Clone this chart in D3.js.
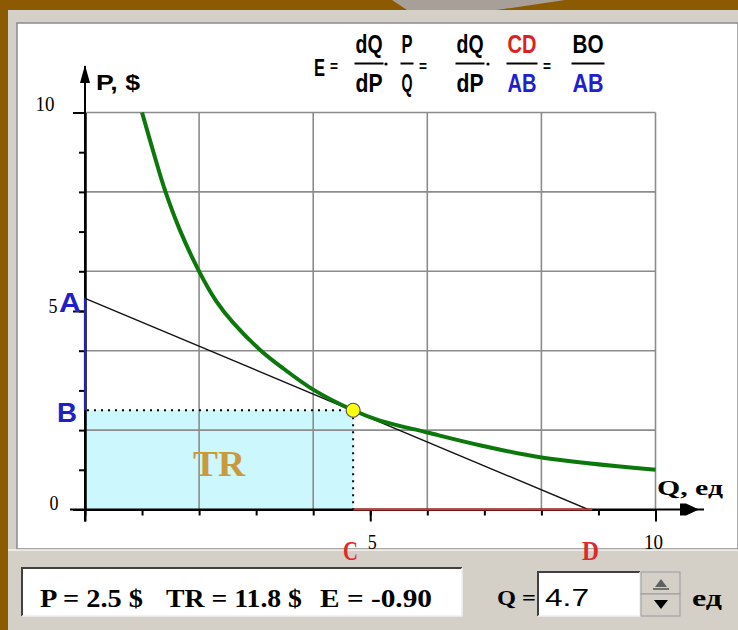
<!DOCTYPE html>
<html>
<head>
<meta charset="utf-8">
<script src="https://cdn.jsdelivr.net/npm/d3@7"></script>
<style>
  body { margin: 0; background: #8c5a00; }
  svg { display: block; }
</style>
</head>
<body>
<div id="chart"></div>
<script>
// demand curve (Q in units, P in $)
var qValues = [1.0, 1.2, 1.4, 1.66, 2.0, 2.3, 2.6, 3.07, 3.45, 4.0, 4.7, 5.17, 6.0, 6.92, 8.0, 10.0];
var pValues = [10, 9.0, 8.05, 7.05, 6.0, 5.25, 4.7, 4.02, 3.58, 3.02, 2.5, 2.24, 1.94, 1.62, 1.31, 1.0];

// current point and the tangent through it
var currentQ = 4.7;
var currentP = 2.5;
var currentTR = 11.8;
var currentE = -0.90;
var tangentA = 5.32;   // where the tangent meets the P axis
var tangentD = 8.82;   // where the tangent meets the Q axis

var gridValues = [2, 4, 6, 8, 10];
var minorTicks = [0, 1, 2, 3, 4, 5, 6, 7, 8, 9, 10];
var majorTicks = [0, 5, 10];

var svgWidth = 738;
var svgHeight = 630;

var svg = d3.select("#chart")
  .append("svg")
  .attr("width", svgWidth)
  .attr("height", svgHeight);

var xScale = d3.scaleLinear().domain([0, 10]).range([85, 655.5]);
var yScale = d3.scaleLinear().domain([0, 10]).range([509.5, 112.5]);

// text helper: squeeze text to a measured width (the original fonts are narrow)
function addText(x, y, txt, size, family, color, width, anchor) {
  var t = svg.append("text")
    .attr("x", x)
    .attr("y", y)
    .attr("font-size", size)
    .attr("font-family", family)
    .attr("font-weight", "bold")
    .attr("fill", color || "#000")
    .attr("text-anchor", anchor || "start")
    .text(txt);
  if (width) {
    t.attr("textLength", width).attr("lengthAdjust", "spacingAndGlyphs");
  }
  return t;
}
var SANS = "'Liberation Sans', Arial, sans-serif";
var SERIF = "'Liberation Serif', 'Times New Roman', serif";

// ---- window frame ----
svg.append("rect").attr("width", svgWidth).attr("height", svgHeight).attr("fill", "#8c5a00");
svg.append("polygon")
  .attr("points", "392,0 565,0 470,14 425,22")
  .attr("fill", "#a8a098");
svg.append("rect").attr("x", 8).attr("y", 10).attr("width", 730).attr("height", 620).attr("fill", "#d4d0c8");
svg.append("rect").attr("x", 17).attr("y", 23).attr("width", 721).attr("height", 526)
  .attr("fill", "#ffffff").attr("stroke", "#8a8a8a").attr("stroke-width", 1.5);
svg.append("line").attr("x1", 8).attr("x2", 738).attr("y1", 550).attr("y2", 550)
  .attr("stroke", "#f4f4f0").attr("stroke-width", 1.5);

// ---- TR area ----
svg.append("rect")
  .attr("x", xScale(0))
  .attr("y", yScale(currentP))
  .attr("width", xScale(currentQ) - xScale(0))
  .attr("height", yScale(0) - yScale(currentP))
  .attr("fill", "#ccf7fc");

// ---- grid ----
svg.selectAll(".vgrid")
  .data(gridValues)
  .enter()
  .append("line")
  .attr("class", "vgrid")
  .attr("x1", d => xScale(d)).attr("x2", d => xScale(d))
  .attr("y1", yScale(10)).attr("y2", yScale(0))
  .attr("stroke", "#8c8c8c").attr("stroke-width", 1.6);

svg.selectAll(".hgrid")
  .data(gridValues)
  .enter()
  .append("line")
  .attr("class", "hgrid")
  .attr("x1", xScale(0)).attr("x2", xScale(10))
  .attr("y1", d => yScale(d)).attr("y2", d => yScale(d))
  .attr("stroke", "#8c8c8c").attr("stroke-width", 1.6);

// ---- tangent line A-D ----
svg.append("line")
  .attr("x1", xScale(0)).attr("y1", yScale(tangentA))
  .attr("x2", xScale(tangentD)).attr("y2", yScale(0))
  .attr("stroke", "#111").attr("stroke-width", 1.4);

// ---- axes ----
var xAxisMinor = d3.axisBottom(xScale).tickValues(minorTicks).tickSize(6).tickSizeOuter(0).tickFormat("");
var xAxisMajor = d3.axisBottom(xScale).tickValues(majorTicks).tickSize(12).tickSizeOuter(0).tickFormat("");
var yAxisMinor = d3.axisLeft(yScale).tickValues(minorTicks).tickSize(6).tickSizeOuter(0).tickFormat("");
var yAxisMajor = d3.axisLeft(yScale).tickValues(majorTicks).tickSize(12).tickSizeOuter(0).tickFormat("");

[xAxisMinor, xAxisMajor].forEach(function(ax) {
  svg.append("g").attr("class", "axis")
    .attr("transform", `translate(0, ${yScale(0)})`)
    .call(ax);
});
[yAxisMinor, yAxisMajor].forEach(function(ax) {
  svg.append("g").attr("class", "axis")
    .attr("transform", `translate(${xScale(0)}, 0)`)
    .call(ax);
});
svg.selectAll(".axis path, .axis line").attr("stroke", "#000").attr("stroke-width", 2);

// axis extensions and arrows
svg.append("line").attr("x1", 70).attr("x2", 704)
  .attr("y1", yScale(0)).attr("y2", yScale(0)).attr("stroke", "#000").attr("stroke-width", 2);
svg.append("line").attr("x1", xScale(0)).attr("x2", xScale(0))
  .attr("y1", 66).attr("y2", yScale(0) + 12).attr("stroke", "#000").attr("stroke-width", 2);
svg.append("polygon")
  .attr("points", `${xScale(0)},65 ${xScale(0) - 5},83 ${xScale(0) + 5},83`)
  .attr("fill", "#000");
svg.append("polygon")
  .attr("points", `680,${yScale(0) - 6} 686,${yScale(0) - 6} 699,${yScale(0)} 686,${yScale(0) + 6} 680,${yScale(0) + 6}`)
  .attr("fill", "#000");

// CD segment (red) and AB segment (blue)
svg.append("line")
  .attr("x1", xScale(currentQ)).attr("x2", xScale(tangentD) + 4)
  .attr("y1", yScale(0)).attr("y2", yScale(0))
  .attr("stroke", "#e03030").attr("stroke-width", 2.2);
svg.append("line")
  .attr("x1", xScale(0)).attr("x2", xScale(0))
  .attr("y1", yScale(tangentA)).attr("y2", yScale(currentP))
  .attr("stroke", "#2020c8").attr("stroke-width", 2.2);

// ---- demand curve ----
var curveData = qValues.map((q, i) => ({ q: q, p: pValues[i] }));
var lineGen = d3.line()
  .x(d => xScale(d.q))
  .y(d => yScale(d.p))
  .curve(d3.curveCatmullRom.alpha(0.5));
svg.append("path")
  .datum(curveData)
  .attr("d", lineGen)
  .attr("fill", "none")
  .attr("stroke", "#0c780c")
  .attr("stroke-width", 4);

// ---- dotted guides ----
svg.append("line")
  .attr("x1", xScale(0) + 2).attr("x2", xScale(currentQ))
  .attr("y1", yScale(currentP)).attr("y2", yScale(currentP))
  .attr("stroke", "#000").attr("stroke-width", 2).attr("stroke-dasharray", "2,5");
svg.append("line")
  .attr("x1", xScale(currentQ)).attr("x2", xScale(currentQ))
  .attr("y1", yScale(currentP)).attr("y2", yScale(0))
  .attr("stroke", "#000").attr("stroke-width", 2).attr("stroke-dasharray", "2,5");

svg.append("circle")
  .attr("cx", xScale(currentQ)).attr("cy", yScale(currentP))
  .attr("r", 7)
  .attr("fill", "#ffff10")
  .attr("stroke", "#555").attr("stroke-width", 1.2);

// ---- tick labels ----
addText(45, 111, "10", 20, SERIF, "#000", 19, "middle").attr("font-weight", "normal");
addText(53, 313, "5", 20, SERIF, "#000", 9, "middle").attr("font-weight", "normal");
addText(54, 510, "0", 20, SERIF, "#000", 9, "middle").attr("font-weight", "normal");
addText(xScale(5) + 2, 549, "5", 20, SERIF, "#000", 9, "middle").attr("font-weight", "normal");
addText(xScale(10) - 2, 549, "10", 20, SERIF, "#000", 19, "middle").attr("font-weight", "normal");

// ---- axis titles and point letters ----
addText(96, 90, "P, $", 22, SANS, "#000", 44);
addText(657, 495, "Q, ед", 22, SERIF, "#000", 66);

addText(59, 312, "A", 28, SANS, "#2020c8", 22);
addText(57, 422, "B", 28, SANS, "#2020c8", 20);
addText(343, 560, "C", 28, SERIF, "#e02828", 15);
addText(582, 560, "D", 28, SERIF, "#e02828", 17);
addText(219, 476, "TR", 36, SERIF, "#c89a3c", 52, "middle");

// ---- elasticity formula ----
function fraction(cx, num, den, numColor, denColor, w) {
  addText(cx, 53, num, 25, SANS, numColor, w, "middle");
  addText(cx, 92, den, 25, SANS, denColor, w, "middle");
  svg.append("line")
    .attr("x1", cx - w / 2 - 1).attr("x2", cx + w / 2 + 1)
    .attr("y1", 63.5).attr("y2", 63.5)
    .attr("stroke", "#000").attr("stroke-width", 2);
}
addText(314, 76, "E", 24, SANS, "#000", 11);
addText(330, 72, "=", 17, SANS, "#000", 8);
fraction(369, "dQ", "dP", "#000", "#000", 27);
svg.append("circle").attr("cx", 386).attr("cy", 64).attr("r", 1.6).attr("fill", "#000");
fraction(407, "P", "Q", "#000", "#000", 11);
addText(419, 72, "=", 17, SANS, "#000", 8);
fraction(470, "dQ", "dP", "#000", "#000", 27);
svg.append("circle").attr("cx", 488).attr("cy", 64).attr("r", 1.6).attr("fill", "#000");
fraction(522, "CD", "AB", "#e02020", "#2020d0", 29);
addText(543, 72, "=", 17, SANS, "#000", 8);
fraction(588, "BO", "AB", "#000", "#2020d0", 31);

// ---- status bar ----
function sunken(x, y, w, h) {
  svg.append("rect").attr("x", x).attr("y", y).attr("width", w).attr("height", h).attr("fill", "#fff");
  svg.append("path").attr("d", `M${x},${y + h} V${y} H${x + w}`)
    .attr("fill", "none").attr("stroke", "#404040").attr("stroke-width", 2);
  svg.append("path").attr("d", `M${x},${y + h} H${x + w} V${y}`)
    .attr("fill", "none").attr("stroke", "#f0f0f0").attr("stroke-width", 1.5);
}
sunken(22, 568, 440, 48);
addText(40, 607, "P = " + currentP + " $", 25, SERIF, "#000", 103);
addText(166, 607, "TR = " + currentTR + " $", 25, SERIF, "#000", 136);
addText(320, 607, "E = " + currentE.toFixed(2), 25, SERIF, "#000", 112);

addText(497, 605, "Q =", 22, SERIF, "#000", 39);
sunken(538, 572, 102, 44);
addText(545, 606, String(currentQ), 23, SANS, "#000", 44).attr("font-weight", "normal");

// spinner
svg.append("rect").attr("x", 641).attr("y", 572).attr("width", 39).attr("height", 22)
  .attr("fill", "#d4d0c8").attr("stroke", "#9a9a9a");
svg.append("rect").attr("x", 641).attr("y", 594).attr("width", 39).attr("height", 22)
  .attr("fill", "#d4d0c8").attr("stroke", "#9a9a9a");
svg.append("polygon").attr("points", "655,587 661,579 667,587").attr("fill", "#606060");
svg.append("line").attr("x1", 653).attr("x2", 669).attr("y1", 589).attr("y2", 589).attr("stroke", "#505050").attr("stroke-width", 1.5);
svg.append("polygon").attr("points", "654,600 668,600 661,609").attr("fill", "#000");

addText(692, 606, "ед", 24, SERIF, "#000", 30);
</script>
</body>
</html>
